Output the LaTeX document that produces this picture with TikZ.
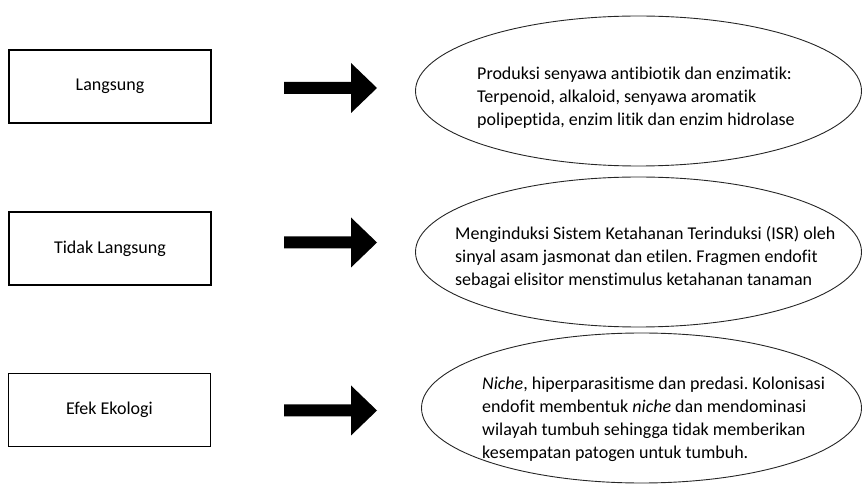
\documentclass[tikz,border=0pt]{standalone}
\usepackage{fontspec}
\setmainfont[Ligatures=NoCommon]{Carlito}
\usetikzlibrary{shapes.geometric}
\frenchspacing
\begin{document}
\begin{tikzpicture}[x=1pt,y=-1pt,
  catbox/.style={draw=black,line width=1.4pt,minimum width=202pt,minimum height=73pt,inner sep=0pt,font=\fontsize{18}{21}\selectfont},
  oval/.style={draw=black!85,line width=0.9pt,ellipse,minimum width=446pt,minimum height=150pt,inner sep=0pt},
  desc/.style={anchor=west,align=left,inner sep=0pt,font=\fontsize{18}{23}\selectfont},
  blockarrow/.style={fill=black}]
\useasboundingbox (0,0) rectangle (863,486);
% boxes
\node[catbox] (b1) at (110,86.5) {Langsung};
\node[catbox] (b2) at (110,248.5) {Tidak Langsung};
\node[catbox] (b3) at (109.5,410) {Efek Ekologi};
% ellipses
\node[oval] (e1) at (638.5,91) {};
\node[oval] (e2) at (638.5,252) {};
\node[oval,minimum width=440pt] (e3) at (641.5,408) {};
% texts
\node[desc] (t1) at (477,97.5) {Produksi senyawa antibiotik dan enzimatik:\\Terpenoid, alkaloid, senyawa aromatik\\polipeptida, enzim litik dan enzim hidrolase};
\node[desc] (t2) at (455,257) {Menginduksi Sistem Ketahanan Terinduksi (ISR) oleh\\sinyal asam jasmonat dan etilen. Fragmen endofit\\sebagai elisitor menstimulus ketahanan tanaman};
\node[desc] (t3) at (482,419.5) {\textit{Niche}, hiperparasitisme dan predasi. Kolonisasi\\endofit membentuk \textit{niche} dan mendominasi\\wilayah tumbuh sehingga tidak memberikan\\kesempatan patogen untuk tumbuh.};
% block arrows
\foreach \n/\y in {1/88,2/242.5,3/410.5}{
  \coordinate (a\n) at (284,\y);
  \fill[blockarrow] (a\n) ++(0,-6) -- ++(67,0) -- ++(0,-19) -- ++(26,25) -- ++(-26,25) -- ++(0,-19) -- ++(-67,0) -- cycle;
}
\end{tikzpicture}
\end{document}
